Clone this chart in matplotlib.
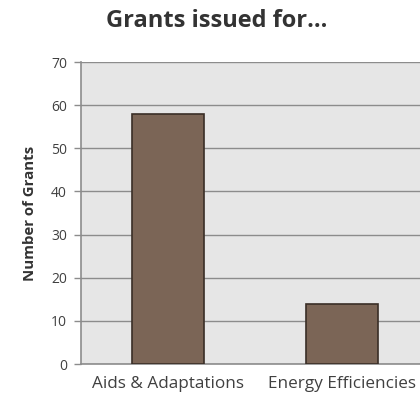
import matplotlib
matplotlib.use("Agg")
import matplotlib.pyplot as plt

categories = ["Aids & Adaptations", "Energy Efficiencies"]
values = [58, 14]
yticks = [0, 10, 20, 30, 40, 50, 60, 70]

plt.rcParams['font.family'] = ['Open Sans', 'DejaVu Sans']

fig = plt.figure(figsize=(4.2, 4.01), dpi=100)
ax = fig.add_axes([81/420, 1-364/401, 348/420, (364-62)/401])
ax.set_facecolor('#e6e6e6')
x = list(range(len(categories)))
ax.bar(x, values, width=0.41, color='#7b6556', edgecolor='#3a2e26', linewidth=1.2, zorder=3)
ax.set_xlim(-0.5, 1.5)
ax.set_ylim(0, 70)
ax.set_yticks(yticks)
ax.yaxis.grid(True, color='#8c8c8c', linewidth=1.0, zorder=0)
for s in ['top', 'right']:
    ax.spines[s].set_visible(False)
ax.spines['left'].set_color('#8c8c8c')
ax.spines['bottom'].set_color('#8c8c8c')
ax.spines['left'].set_linewidth(1.2)
ax.spines['bottom'].set_linewidth(1.2)
ax.tick_params(axis='y', colors='#8c8c8c', labelcolor='#404040', labelsize=10, length=5, width=1.0, pad=5)
ax.tick_params(axis='x', length=0, labelcolor='#404040', labelsize=12.3, pad=9)
ax.set_xticks(x)
ax.set_xticklabels(categories)
ax.set_ylabel("Number of Grants", fontsize=10.8, fontweight='bold', color='#333333', labelpad=10)
fig.text(217/420, 1-21/401, "Grants issued for...", ha='center', va='center',
         fontsize=17, fontweight='bold', color='#333333')
fig.savefig("out.png", dpi=100)
